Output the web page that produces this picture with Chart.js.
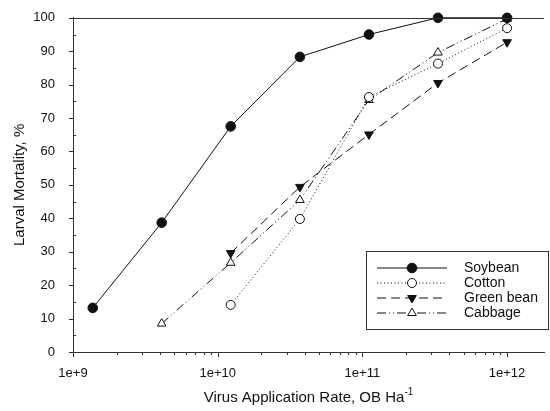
<!DOCTYPE html>
<html lang="en">
<head>
<meta charset="UTF-8">
<title>Larval Mortality vs Virus Application Rate</title>
<script src="https://cdn.jsdelivr.net/npm/chart.js"></script>
<style>
    html, body { margin: 0; padding: 0; background: #fff; }
    #wrap { width: 550px; height: 411px; position: relative; }
</style>
</head>
<body>
<div id="wrap"><canvas id="mortalityChart"></canvas></div>
<script>
// application rates (OB/ha), one per column of points
const rates = [1.37e9, 4.1e9, 1.23e10, 3.7e10, 1.11e11, 3.33e11, 1e12];
// larval mortality, % (null = not tested at that rate)
const soybean   = [13.2, 38.7, 67.5, 88.3, 95.0, 100, 100];
const cotton    = [null, null, 14.1, 39.8, 76.3, 86.3, 96.9];
const greenBean = [null, null, 29.6, 49.4, 65.1, 80.5, 92.7];
const cabbage   = [null, 8.5, 26.7, 45.5, 75.4, 89.6, 99.7];
const xMajorTicks = [1e9, 1e10, 1e11, 1e12];
const yTicks = [0, 10, 20, 30, 40, 50, 60, 70, 80, 90, 100];

const FONT = '"Liberation Sans", Arial, sans-serif';
const INK = '#111';

function toPoints(ys) {
    return rates.map((x, i) => ({ x: x, y: ys[i] })).filter(p => p.y !== null);
}

// Soybean, Cotton, Green bean, Cabbage
const seriesStyles = [
    { label: 'Soybean', data: soybean, dash: [], style: 'circle', fill: INK, rot: 0, r: 4.8 },
    { label: 'Cotton', data: cotton, dash: [1, 2.5], style: 'circle', fill: '#fff', rot: 0, r: 4.5 },
    { label: 'Green bean', data: greenBean, dash: [9, 5], style: 'triangle', fill: INK, rot: 180, r: 5 },
    { label: 'Cabbage', data: cabbage, dash: [9, 3, 1, 3, 1, 3], style: 'triangle', fill: '#fff', rot: 0, r: 5 }
];

// minor ticks, axis titles, top frame line and the boxed legend
const decorPlugin = {
    id: 'decor',
    afterDraw(chart) {
        const ctx = chart.ctx;
        const a = chart.chartArea;
        const xs = chart.scales.x, ys = chart.scales.y;
        ctx.save();
        ctx.strokeStyle = '#333';
        ctx.lineWidth = 1;
        ctx.setLineDash([]);

        // top frame line
        ctx.beginPath();
        ctx.moveTo(a.left, Math.round(a.top) + 0.5);
        ctx.lineTo(a.right, Math.round(a.top) + 0.5);
        ctx.stroke();

        // x ticks (log): majors longer
        ctx.beginPath();
        for (let e = 9; e <= 12; e++) {
            for (let m = 1; m <= 9; m++) {
                const v = m * Math.pow(10, e);
                if (v > xs.max) break;
                const px = Math.round(xs.getPixelForValue(v)) + 0.5;
                const len = m === 1 ? 5 : 3;
                ctx.moveTo(px, a.bottom);
                ctx.lineTo(px, a.bottom + len);
            }
        }
        // y ticks: majors outward, minors inward
        for (let v = 0; v <= 100; v += 5) {
            const py = Math.round(ys.getPixelForValue(v)) + 0.5;
            if (v % 10 === 0) {
                ctx.moveTo(a.left - 4, py);
                ctx.lineTo(a.left, py);
            } else {
                ctx.moveTo(a.left, py);
                ctx.lineTo(a.left + 3, py);
            }
        }
        ctx.stroke();

        // axis titles
        ctx.fillStyle = INK;
        ctx.textBaseline = 'middle';
        ctx.font = '15px ' + FONT;
        const main = 'Virus Application Rate, OB Ha';
        const wMain = ctx.measureText(main).width;
        ctx.font = '10px ' + FONT;
        const wSup = ctx.measureText('-1').width;
        const x0 = (a.left + a.right) / 2 - (wMain + wSup) / 2;
        ctx.font = '15px ' + FONT;
        ctx.textAlign = 'left';
        ctx.fillText(main, x0, 398);
        ctx.font = '10px ' + FONT;
        ctx.fillText('-1', x0 + wMain, 392);

        ctx.save();
        ctx.translate(20, (a.top + a.bottom) / 2);
        ctx.rotate(-Math.PI / 2);
        ctx.textAlign = 'center';
        ctx.font = '15px ' + FONT;
        ctx.fillText('Larval Mortality, %', 0, 0);
        ctx.restore();

        // legend box
        const box = { x: 366.5, y: 251.5, w: 182, h: 78 };
        ctx.fillStyle = '#fff';
        ctx.fillRect(box.x, box.y, box.w, box.h);
        ctx.strokeStyle = '#333';
        ctx.strokeRect(box.x, box.y, box.w, box.h);
        chart.data.datasets.forEach((ds, i) => {
            const y = 268 + i * 15;
            ctx.strokeStyle = INK;
            ctx.lineWidth = 1;
            ctx.setLineDash(ds.borderDash || []);
            ctx.beginPath();
            ctx.moveTo(377, y);
            ctx.lineTo(447, y);
            ctx.stroke();
            ctx.setLineDash([]);
            ctx.fillStyle = ds.pointBackgroundColor;
            ctx.strokeStyle = INK;
            Chart.helpers.drawPoint(ctx, {
                pointStyle: ds.pointStyle,
                radius: ds.pointRadius,
                rotation: ds.pointRotation,
                borderWidth: 1
            }, 412, y);
            ctx.fillStyle = INK;
            ctx.font = '14px ' + FONT;
            ctx.textAlign = 'left';
            ctx.fillText(ds.label, 464, y);
        });
        ctx.restore();
    }
};

new Chart(document.getElementById('mortalityChart'), {
    type: 'line',
    data: {
        datasets: seriesStyles.map(s => ({
            label: s.label,
            data: toPoints(s.data),
            borderColor: INK,
            borderWidth: 1,
            borderDash: s.dash,
            pointStyle: s.style,
            pointRotation: s.rot,
            pointRadius: s.r,
            pointHoverRadius: s.r,
            pointBackgroundColor: s.fill,
            pointBorderColor: INK,
            pointBorderWidth: 1,
            tension: 0,
            fill: false,
            clip: false
        }))
    },
    options: {
        responsive: true,
        maintainAspectRatio: false,
        animation: false,
        layout: { padding: { top: 16, right: 2, left: 0, bottom: 0 } },
        plugins: {
            legend: { display: false },
            tooltip: { enabled: false }
        },
        scales: {
            x: {
                type: 'logarithmic',
                min: 1e9,
                max: 1.8e12,
                grid: { display: false },
                border: { display: true, color: '#333', width: 1 },
                afterBuildTicks: scale => {
                    scale.ticks = xMajorTicks.map(v => ({ value: v }));
                },
                afterFit: scale => { scale.height = 59; },
                ticks: {
                    autoSkip: false,
                    maxRotation: 0,
                    padding: 6,
                    color: INK,
                    font: { family: FONT, size: 13 },
                    callback: v => '1e+' + Math.round(Math.log10(v))
                }
            },
            y: {
                min: 0,
                max: 100,
                grid: { display: false },
                border: { display: true, color: '#333', width: 1 },
                afterBuildTicks: scale => {
                    scale.ticks = yTicks.map(v => ({ value: v }));
                },
                afterFit: scale => { scale.width = 73; },
                ticks: {
                    padding: 10,
                    color: INK,
                    font: { family: FONT, size: 13 }
                }
            }
        }
    },
    plugins: [decorPlugin]
});
</script>
</body>
</html>
